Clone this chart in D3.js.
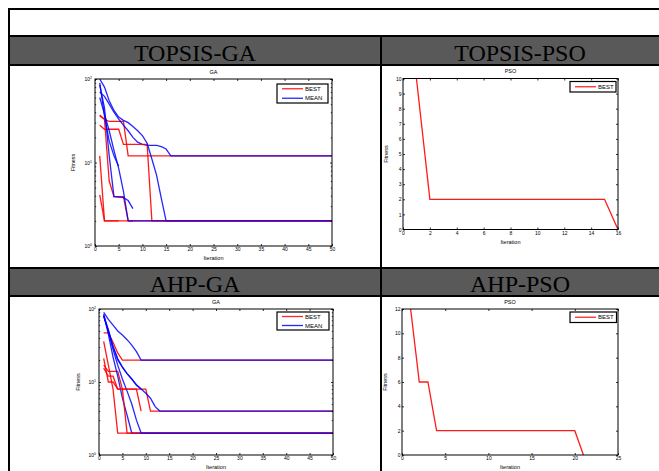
<!DOCTYPE html>
<html>
<head>
<meta charset="utf-8">
<script src="https://cdn.jsdelivr.net/npm/d3@7"></script>
<style>
  body { margin: 0; background: #fff; }
  svg { display: block; }
</style>
</head>
<body>
<div id="chart"></div>
<script>
// table labels
const rowLabels = [['TOPSIS-GA', 'TOPSIS-PSO'], ['AHP-GA', 'AHP-PSO']];

// GA runs, each run is a list of [iteration, fitness] vertices
const topsisGaBest = [
  [[1, 36], [2, 33], [3, 31], [6, 31], [7, 12], [50, 12]],
  [[1, 28], [2, 25], [5, 25], [6, 16.5], [11, 16.5], [12, 2], [50, 2]],
  [[1, 37], [2, 33], [3, 6], [4, 3.9], [6, 3.9], [7, 2], [8, 2]],
  [[1, 12], [2, 2], [5, 2]],
  [[1, 4.1], [2, 2], [50, 2]]
];
const topsisGaMean = [
  [[1, 70], [2, 62], [3, 50], [4, 40], [5, 33], [6, 28], [7, 24], [8, 20], [9, 17.5], [10, 16.5], [11, 16], [13, 16], [14, 15.5], [15, 14.5], [16, 12], [50, 12]],
  [[1, 100], [2, 80], [3, 55], [4, 42], [5, 35], [6, 32], [7, 30], [8, 27], [9, 24], [10, 21], [11, 17], [12, 11], [13, 7], [14, 3.7], [15, 2], [50, 2]],
  [[1, 85], [2, 45], [3, 12], [4, 3.9], [6, 3.8], [7, 3.5], [8, 2.8]],
  [[1, 90], [2, 36], [3, 18], [4, 12], [5, 9]],
  [[1, 60], [2, 38], [3, 24], [4, 14], [5, 8.5], [6, 4.5], [7, 2], [50, 2]]
];
const ahpGaBest = [
  [[1, 47], [2, 47], [3, 35], [4, 25], [5, 20], [50, 20]],
  [[1, 17], [2, 14], [4, 14], [5, 8], [10, 8], [11, 4], [50, 4]],
  [[1, 36], [2, 17], [3, 8], [4, 2], [50, 2]],
  [[1, 15.5], [2, 12], [3, 12], [4, 8], [5, 8], [6, 2], [50, 2]],
  [[1, 21], [2, 10], [3, 10], [4, 8], [8, 8], [9, 4]]
];
const ahpGaMean = [
  [[1, 90], [2, 72], [3, 60], [4, 50], [5, 44], [6, 38], [7, 32], [8, 26], [9, 20], [50, 20]],
  [[1, 80], [2, 50], [3, 30], [4, 20], [5, 16], [6, 13], [7, 11], [8, 9], [9, 8], [10, 7], [11, 6], [12, 4.6], [13, 4], [50, 4]],
  [[1, 85], [2, 45], [3, 22], [4, 12], [5, 6], [6, 3.5], [7, 2], [50, 2]],
  [[1, 80], [2, 50], [3, 28], [4, 17], [5, 11], [6, 7.5], [7, 5], [8, 3], [9, 2], [50, 2]],
  [[1, 82], [2, 52], [3, 31], [4, 21], [5, 16], [6, 13], [7, 11], [8, 9.2], [9, 8]]
];

// PSO best fitness per iteration
const topsisPsoBest = [[1, 10], [2, 2], [15, 2], [16, 0]];
const ahpPsoBest = [[1, 12], [2, 6], [3, 6], [4, 2], [20, 2], [21, 0]];

// ticks
const gaXTicks = [0, 5, 10, 15, 20, 25, 30, 35, 40, 45, 50];
const gaYTicks = [1, 10, 100];
const gaYMinor = [2, 3, 4, 5, 6, 7, 8, 9, 20, 30, 40, 50, 60, 70, 80, 90];
const topsisPsoXTicks = [0, 2, 4, 6, 8, 10, 12, 14, 16];
const topsisPsoYTicks = [0, 1, 2, 3, 4, 5, 6, 7, 8, 9, 10];
const ahpPsoXTicks = [0, 5, 10, 15, 20, 25];
const ahpPsoYTicks = [0, 2, 4, 6, 8, 10, 12];

const W = 659, H = 471;
const sans = 'Liberation Sans, Arial, sans-serif';

const svg = d3.select('#chart').append('svg')
  .attr('width', W)
  .attr('height', H);

// ---- table ----
[37, 269].forEach((top, i) => {
  const bottom = [64, 295][i];
  svg.append('rect')
    .attr('x', 10).attr('y', top)
    .attr('width', W - 10).attr('height', bottom - top)
    .attr('fill', '#595959');
  rowLabels[i].forEach((label, c) => {
    svg.append('text')
      .attr('x', c === 0 ? 195 : 520)
      .attr('y', bottom - 3)
      .attr('text-anchor', 'middle')
      .style('font-family', 'Liberation Serif, Times New Roman, serif')
      .style('font-size', '24px')
      .attr('fill', '#000')
      .text(label);
  });
});

const hLines = [9, 36, 65, 268, 296];
hLines.forEach(yy => {
  svg.append('line')
    .attr('x1', 8).attr('x2', W)
    .attr('y1', yy).attr('y2', yy)
    .attr('stroke', '#000').attr('stroke-width', 2);
});
svg.append('line').attr('x1', 9).attr('x2', 9).attr('y1', 8).attr('y2', H)
  .attr('stroke', '#000').attr('stroke-width', 2);
svg.append('line').attr('x1', 381).attr('x2', 381).attr('y1', 36).attr('y2', H)
  .attr('stroke', '#000').attr('stroke-width', 2);

// ---- charts ----
const panels = [
  { box: [95, 79, 332, 246], title: 'GA', log: true, xDomain: [0, 50], yDomain: [1, 100],
    xTicks: gaXTicks, yTicks: gaYTicks, best: topsisGaBest, mean: topsisGaMean,
    legend: [277, 84, 328, 103], ylabX: 73 },
  { box: [403, 78.5, 618, 229.5], title: 'PSO', log: false, xDomain: [0, 16], yDomain: [0, 10],
    xTicks: topsisPsoXTicks, yTicks: topsisPsoYTicks, best: [topsisPsoBest], mean: [],
    legend: [570, 81.5, 616, 92], ylabX: 386 },
  { box: [99, 309, 333, 455], title: 'GA', log: true, xDomain: [0, 50], yDomain: [1, 100],
    xTicks: gaXTicks, yTicks: gaYTicks, best: ahpGaBest, mean: ahpGaMean,
    legend: [277, 312, 329, 330], ylabX: 78 },
  { box: [402, 309, 618, 455], title: 'PSO', log: false, xDomain: [0, 25], yDomain: [0, 12],
    xTicks: ahpPsoXTicks, yTicks: ahpPsoYTicks, best: [ahpPsoBest], mean: [],
    legend: [570, 312, 616.5, 322.5], ylabX: 385 }
];

function styleAxis(a) {
  a.attr('font-family', sans).attr('font-size', 5);
  a.select('.domain').remove();
  a.selectAll('.tick line').attr('stroke-width', 0.8);
}

function drawPanel(p) {
  const [x0, y0, x1, y1] = p.box;
  const g = svg.append('g');

  const x = d3.scaleLinear().domain(p.xDomain).range([x0, x1]);
  const y = (p.log ? d3.scaleLog() : d3.scaleLinear()).domain(p.yDomain).range([y1, y0]);

  const line = d3.line().x(d => x(d[0])).y(d => y(d[1]));

  // runs are plotted one after another, best then mean
  p.best.forEach((run, i) => {
    g.append('path').datum(run)
      .attr('d', line)
      .attr('fill', 'none')
      .attr('stroke', '#ff0000')
      .attr('stroke-opacity', 0.9)
      .attr('stroke-width', 1.3);
    if (p.mean[i]) {
      g.append('path').datum(p.mean[i])
        .attr('d', line)
        .attr('fill', 'none')
        .attr('stroke', '#0000ff')
        .attr('stroke-opacity', 0.85)
        .attr('stroke-width', 1.3);
    }
  });

  g.append('rect')
    .attr('x', x0).attr('y', y0)
    .attr('width', x1 - x0).attr('height', y1 - y0)
    .attr('fill', 'none')
    .attr('stroke', '#000')
    .attr('stroke-width', 1);

  // x axes, ticks inward
  g.append('g')
    .attr('transform', `translate(0,${y1})`)
    .call(d3.axisBottom(x).tickValues(p.xTicks).tickSizeInner(-2).tickSizeOuter(0).tickPadding(1.5))
    .call(styleAxis);
  g.append('g')
    .attr('transform', `translate(0,${y0})`)
    .call(d3.axisTop(x).tickValues(p.xTicks).tickSizeInner(-2).tickSizeOuter(0).tickFormat(''))
    .call(styleAxis);

  // y axes
  g.append('g')
    .attr('transform', `translate(${x0},0)`)
    .call(d3.axisLeft(y).tickValues(p.yTicks).tickSizeInner(-2).tickSizeOuter(0).tickPadding(1.5)
      .tickFormat(p.log ? '' : d3.format('d')))
    .call(styleAxis);
  g.append('g')
    .attr('transform', `translate(${x1},0)`)
    .call(d3.axisRight(y).tickValues(p.yTicks).tickSizeInner(-2).tickSizeOuter(0).tickFormat(''))
    .call(styleAxis);

  if (p.log) {
    g.append('g')
      .attr('transform', `translate(${x0},0)`)
      .call(d3.axisLeft(y).tickValues(gaYMinor).tickSizeInner(-1.2).tickSizeOuter(0).tickFormat(''))
      .call(styleAxis);
    g.append('g')
      .attr('transform', `translate(${x1},0)`)
      .call(d3.axisRight(y).tickValues(gaYMinor).tickSizeInner(-1.2).tickSizeOuter(0).tickFormat(''))
      .call(styleAxis);

    // 10^n labels
    const lab = g.append('g')
      .style('font-family', sans)
      .style('font-size', '5px');
    p.yTicks.forEach(v => {
      const t = lab.append('text')
        .attr('x', x0 - 3)
        .attr('y', y(v) + 2)
        .attr('text-anchor', 'end');
      t.append('tspan').text('10');
      t.append('tspan').attr('dy', -2).style('font-size', '3.5px').text(Math.round(Math.log10(v)));
    });
  }

  // title and axis labels
  g.append('text')
    .attr('x', (x0 + x1) / 2).attr('y', y0 - 5.5)
    .attr('text-anchor', 'middle')
    .style('font-family', sans).style('font-size', '5.5px')
    .text(p.title);
  g.append('text')
    .attr('x', (x0 + x1) / 2).attr('y', y1 + 14)
    .attr('text-anchor', 'middle')
    .style('font-family', sans).style('font-size', '5.5px')
    .text('Iteration');
  g.append('text')
    .attr('transform', `translate(${p.ylabX},${(y0 + y1) / 2}) rotate(-90)`)
    .attr('text-anchor', 'middle')
    .attr('dy', '0.35em')
    .style('font-family', sans).style('font-size', '5.5px')
    .text('Fitness');

  // legend
  const [lx0, ly0, lx1, ly1] = p.legend;
  const items = p.mean.length ? [['BEST', '#ff0000'], ['MEAN', '#0000ff']] : [['BEST', '#ff0000']];
  g.append('rect')
    .attr('x', lx0).attr('y', ly0)
    .attr('width', lx1 - lx0).attr('height', ly1 - ly0)
    .attr('fill', '#fff')
    .attr('stroke', '#000')
    .attr('stroke-width', 1.2);
  const rowH = (ly1 - ly0) / items.length;
  items.forEach(([name, color], i) => {
    const yy = ly0 + rowH * (i + 0.5);
    g.append('line')
      .attr('x1', lx0 + 5).attr('x2', lx0 + 26)
      .attr('y1', yy).attr('y2', yy)
      .attr('stroke', color)
      .attr('stroke-opacity', 0.85)
      .attr('stroke-width', 1.3);
    g.append('text')
      .attr('x', lx0 + 28).attr('y', yy)
      .attr('dy', '0.35em')
      .style('font-family', sans).style('font-size', '6px')
      .text(name);
  });
}

panels.forEach(drawPanel);
</script>
</body>
</html>
